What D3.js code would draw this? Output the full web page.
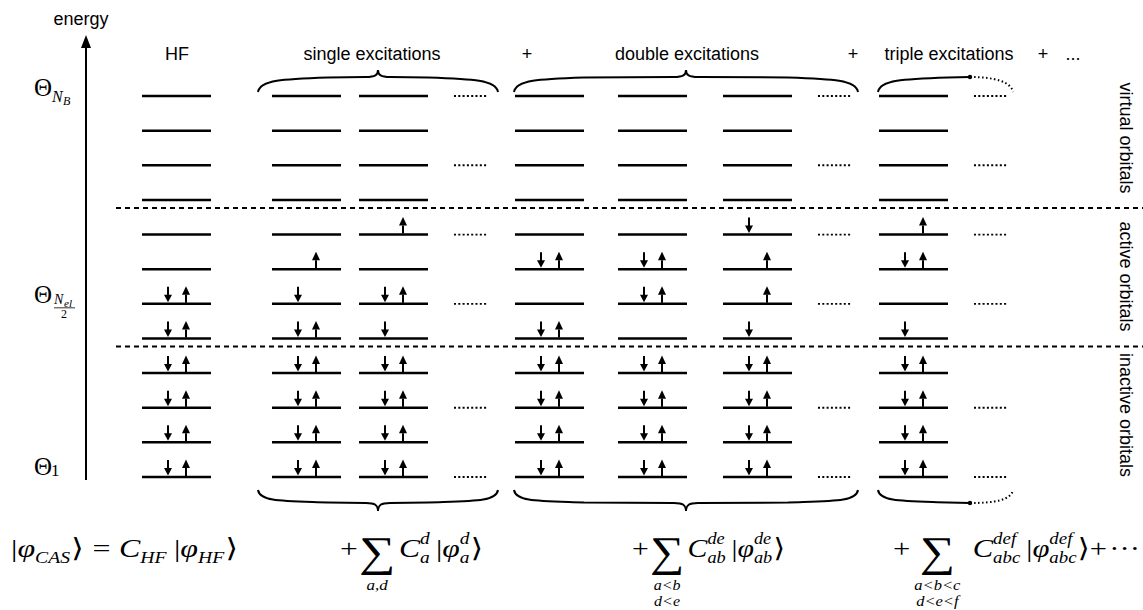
<!DOCTYPE html>
<html>
<head>
<meta charset="utf-8">
<script src="https://cdn.jsdelivr.net/npm/d3@7"></script>
<style>
  body { margin: 0; background: #fff; }
  .sans { font-family: "Liberation Sans", Arial, sans-serif; }
  .math { font-family: "Liberation Serif", "DejaVu Serif", serif; }
</style>
</head>
<body>
<script>
// orbital levels, top (highest energy) to bottom
var levels = ["v4", "v3", "v2", "v1", "a4", "a3", "a2", "a1", "i4", "i3", "i2", "i1"];

// configuration columns
var columns = ["HF", "S1", "S2", "Sdots", "D1", "D2", "D3", "Ddots", "T1", "Tdots"];

// occupation of each level: "u" = spin up, "d" = spin down
var occHF = ["", "", "", "", "", "", "ud", "ud", "ud", "ud", "ud", "ud"];
var occS1 = ["", "", "", "", "", "u", "d", "ud", "ud", "ud", "ud", "ud"];
var occS2 = ["", "", "", "", "u", "", "ud", "d", "ud", "ud", "ud", "ud"];
var occD1 = ["", "", "", "", "", "ud", "", "ud", "ud", "ud", "ud", "ud"];
var occD2 = ["", "", "", "", "", "ud", "ud", "", "ud", "ud", "ud", "ud"];
var occD3 = ["", "", "", "", "d", "u", "u", "d", "ud", "ud", "ud", "ud"];
var occT1 = ["", "", "", "", "u", "ud", "", "d", "ud", "ud", "ud", "ud"];

// levels where the "......" continuation marks are drawn
var dotRows = ["v4", "v2", "a4", "a2", "i3", "i1"];
var dotColumns = ["Sdots", "Ddots", "Tdots"];

// header texts
var headers = ["HF", "single excitations", "+", "double excitations", "+", "triple excitations", "+", "..."];

// orbital spaces on the right
var spaces = ["virtual orbitals", "active orbitals", "inactive orbitals"];
var spaceLevels = [["v4", "v1"], ["a4", "a1"], ["i4", "i1"]];

var w = 1143, h = 610;
var svg = d3.select("body").append("svg")
    .attr("width", w)
    .attr("height", h);

var y = d3.scalePoint().domain(levels).range([96, 477]);
var x = d3.scaleOrdinal()
    .domain(columns)
    .range([142, 272, 359, 454, 515, 618, 723, 818, 879, 974]);
var lineW = 69, dotW = 33;

var occ = { HF: occHF, S1: occS1, S2: occS2, D1: occD1, D2: occD2, D3: occD3, T1: occT1 };

// --- energy axis ---
svg.append("line")
    .attr("x1", 86).attr("x2", 86)
    .attr("y1", 480).attr("y2", 46)
    .attr("stroke", "#000").attr("stroke-width", 2);
svg.append("path")
    .attr("d", "M81,48 L91,48 L86,35 Z")
    .attr("fill", "#000");
svg.append("text")
    .attr("class", "sans")
    .attr("x", 81).attr("y", 25)
    .attr("text-anchor", "middle")
    .style("font-size", "18px")
    .text("energy");

// --- separators ---
[["v1", "a4"], ["a1", "i4"]].forEach(function(p) {
    svg.append("line")
        .attr("x1", 116).attr("x2", w)
        .attr("y1", y(p[0]) + 8).attr("y2", y(p[0]) + 8)
        .attr("stroke", "#000").attr("stroke-width", 2)
        .attr("stroke-dasharray", "5,4");
});

// --- levels and electrons ---
Object.keys(occ).forEach(function(c) {
    var g = svg.append("g");
    g.selectAll("line")
        .data(levels)
        .enter().append("line")
        .attr("x1", x(c)).attr("x2", x(c) + lineW)
        .attr("y1", d => y(d)).attr("y2", d => y(d))
        .attr("stroke", "#000").attr("stroke-width", 2.5);

    occ[c].forEach(function(o, i) {
        var ly = y(levels[i]);
        if (o.indexOf("d") >= 0) {
            var xd = x(c) + 26;
            g.append("line").attr("x1", xd).attr("x2", xd)
                .attr("y1", ly - 17).attr("y2", ly - 8)
                .attr("stroke", "#000").attr("stroke-width", 2);
            g.append("path")
                .attr("d", "M" + (xd - 4) + "," + (ly - 9) + " L" + (xd + 4) + "," + (ly - 9) + " L" + xd + "," + (ly - 1.5) + " Z")
                .attr("fill", "#000");
        }
        if (o.indexOf("u") >= 0) {
            var xu = x(c) + 44;
            g.append("line").attr("x1", xu).attr("x2", xu)
                .attr("y1", ly - 1).attr("y2", ly - 9)
                .attr("stroke", "#000").attr("stroke-width", 2);
            g.append("path")
                .attr("d", "M" + (xu - 4) + "," + (ly - 9) + " L" + (xu + 4) + "," + (ly - 9) + " L" + xu + "," + (ly - 17.5) + " Z")
                .attr("fill", "#000");
        }
    });
});

// --- continuation dots ---
dotColumns.forEach(function(c) {
    svg.append("g").selectAll("line")
        .data(dotRows)
        .enter().append("line")
        .attr("x1", x(c)).attr("x2", x(c) + dotW)
        .attr("y1", d => y(d)).attr("y2", d => y(d))
        .attr("stroke", "#000").attr("stroke-width", 1.8)
        .attr("stroke-dasharray", "2,2.3");
});

// --- braces ---
// s = -1 for braces above the levels, +1 below
function halfBrace(x0, xm, yE, yH, s) {
    return "M" + x0 + "," + yE +
        " C" + (x0 + 2) + "," + (yE + s * 12) + " " + (x0 + 25) + "," + (yH - s * 2) + " " + (x0 + 70) + "," + (yH - s * 0.5) +
        " L" + xm + "," + yH;
}
function brace(x0, x1, yE, yH, yC, s) {
    var cx = (x0 + x1) / 2;
    return halfBrace(x0, cx - 12, yE, yH, s) +
        " C" + (cx - 3) + "," + yH + " " + cx + "," + (yH + s * 2) + " " + cx + "," + yC +
        " C" + cx + "," + (yH + s * 2) + " " + (cx + 3) + "," + yH + " " + (cx + 12) + "," + yH +
        " L" + (x1 - 70) + "," + (yH - s * 0.5) +
        " C" + (x1 - 25) + "," + (yH - s * 2) + " " + (x1 - 2) + "," + (yE + s * 12) + " " + x1 + "," + yE;
}
function tail(x0, x1, yE, yH, s) {
    return "M" + x0 + "," + yH +
        " C" + (x0 + 25) + "," + yH + " " + (x1 - 2) + "," + (yE + s * 10) + " " + x1 + "," + yE;
}
var braceSpec = [
    { yE: 92, yH: 77, yC: 70, s: -1 },
    { yE: 490, yH: 503, yC: 511, s: 1 }
];
braceSpec.forEach(function(b) {
    var g = svg.append("g").attr("fill", "none").attr("stroke", "#000");
    g.append("path").attr("d", brace(x("S1") - 14, x("Sdots") + 44, b.yE, b.yH, b.yC, b.s)).attr("stroke-width", 2);
    g.append("path").attr("d", brace(x("D1") - 1, x("Ddots") + 40, b.yE, b.yH, b.yC, b.s)).attr("stroke-width", 2);
    g.append("path").attr("d", halfBrace(x("T1") - 1, x("Tdots") - 4, b.yE, b.yH, b.s)).attr("stroke-width", 2);
    g.append("path").attr("d", tail(x("Tdots") - 4, x("Tdots") + 39, b.yE, b.yH, b.s))
        .attr("stroke-width", 2).attr("stroke-dasharray", "1.5,2.5");
    svg.append("circle").attr("cx", x("Tdots") - 4).attr("cy", b.yH).attr("r", 2.2).attr("fill", "#000");
});

// --- headers ---
var headerX = [177, 372, 527, 687, 853, 949, 1043, 1073];
svg.append("g").selectAll("text")
    .data(headers)
    .enter().append("text")
    .attr("class", "sans")
    .attr("x", (d, i) => headerX[i])
    .attr("y", 60)
    .attr("text-anchor", "middle")
    .style("font-size", "18px")
    .text(d => d);

// --- orbital spaces on the right ---
svg.append("g").selectAll("text")
    .data(spaces)
    .enter().append("text")
    .attr("class", "sans")
    .attr("text-anchor", "middle")
    .attr("transform", (d, i) => {
        var cy = (y(spaceLevels[i][0]) + y(spaceLevels[i][1])) / 2 - 10;
        return "translate(1120," + cy + ") rotate(90)";
    })
    .style("font-size", "18px")
    .text(d => d);

// --- math labels ---
function put(parent, px, py, str, size, italic, anchor) {
    return parent.append("text")
        .attr("class", "math")
        .attr("x", px).attr("y", py)
        .attr("text-anchor", anchor || "start")
        .style("font-size", size + "px")
        .style("font-style", italic ? "italic" : "normal")
        .text(str);
}

// theta labels on the energy axis
put(svg, 34, y("v4"), "\u0398", 25, false);
put(svg, 52, y("v4") + 6, "N", 16, true);
put(svg, 63, y("v4") + 9, "B", 12, true);

put(svg, 34, y("a2") - 1, "\u0398", 25, false);
put(svg, 54, y("a2") - 0, "N", 14, true);
put(svg, 64, y("a2") + 3, "el", 11, true);
svg.append("line").attr("x1", 54).attr("x2", 75)
    .attr("y1", y("a2") + 4).attr("y2", y("a2") + 4)
    .attr("stroke", "#000").attr("stroke-width", 0.8);
put(svg, 64, y("a2") + 14, "2", 12, false, "middle");

put(svg, 34, y("i1") - 2, "\u0398", 25, false);
put(svg, 51, y("i1") - 1, "1", 17, false);

// expansion formula, laid out piece by piece with measured widths,
// then stretched horizontally to the span it takes in the figure
var fy = 557, big = 26, small = 16;
function formula(x0, x1, items) {
    var g = svg.append("g");
    var cx = x0;
    items.forEach(function(it) {
        if (it.sp) { cx += it.sp; return; }
        if (it.sum) {
            var s = put(g, cx, fy + 9, "\u2211", 42, false);
            var sw = s.node().getComputedTextLength();
            it.lim.forEach(function(l, k) {
                put(g, cx + sw / 2, 590 + k * 16, l, 14, true, "middle");
            });
            cx += sw + 1;
            return;
        }
        if (it.sup !== undefined || it.sub !== undefined) {
            var wmax = 0;
            if (it.sup) wmax = Math.max(wmax, put(g, cx, fy - 13, it.sup, small, true).node().getComputedTextLength());
            if (it.sub) wmax = Math.max(wmax, put(g, cx, fy + 6, it.sub, small, true).node().getComputedTextLength());
            cx += wmax + 1;
            return;
        }
        var t = put(g, cx, fy, it.t, big, !!it.i);
        cx += t.node().getComputedTextLength();
    });
    var sx = (x1 - x0) / (cx - x0);
    g.attr("transform", "translate(" + x0 + ",0) scale(" + sx + ",1) translate(" + (-x0) + ",0)");
}

formula(11, 238, [
    { t: "|" }, { t: "\u03c6", i: 1 }, { sub: "CAS" }, { t: "\u27e9" }, { sp: 7 },
    { t: "=" }, { sp: 7 }, { t: "C", i: 1 }, { sub: "HF" }, { sp: 5 },
    { t: "|" }, { t: "\u03c6", i: 1 }, { sub: "HF" }, { t: "\u27e9" }
]);
formula(340, 483, [
    { t: "+" }, { sp: 1 }, { sum: 1, lim: ["a,d"] }, { sp: 2 }, { t: "C", i: 1 }, { sup: "d", sub: "a" }, { sp: 4 },
    { t: "|" }, { t: "\u03c6", i: 1 }, { sup: "d", sub: "a" }, { t: "\u27e9" }
]);
formula(632, 785, [
    { t: "+" }, { sp: 1 }, { sum: 1, lim: ["a<b", "d<e"] }, { sp: 2 }, { t: "C", i: 1 }, { sup: "de", sub: "ab" }, { sp: 4 },
    { t: "|" }, { t: "\u03c6", i: 1 }, { sup: "de", sub: "ab" }, { t: "\u27e9" }
]);
formula(893, 1140, [
    { t: "+" }, { sp: 8 }, { sum: 1, lim: ["a<b<c", "d<e<f"] }, { sp: 14 }, { t: "C", i: 1 }, { sup: "def", sub: "abc" }, { sp: 4 },
    { t: "|" }, { t: "\u03c6", i: 1 }, { sup: "def", sub: "abc" }, { t: "\u27e9" }, { t: "+" }, { sp: 2 },
    { t: "\u00b7\u00b7\u00b7" }
]);
</script>
</body>
</html>
